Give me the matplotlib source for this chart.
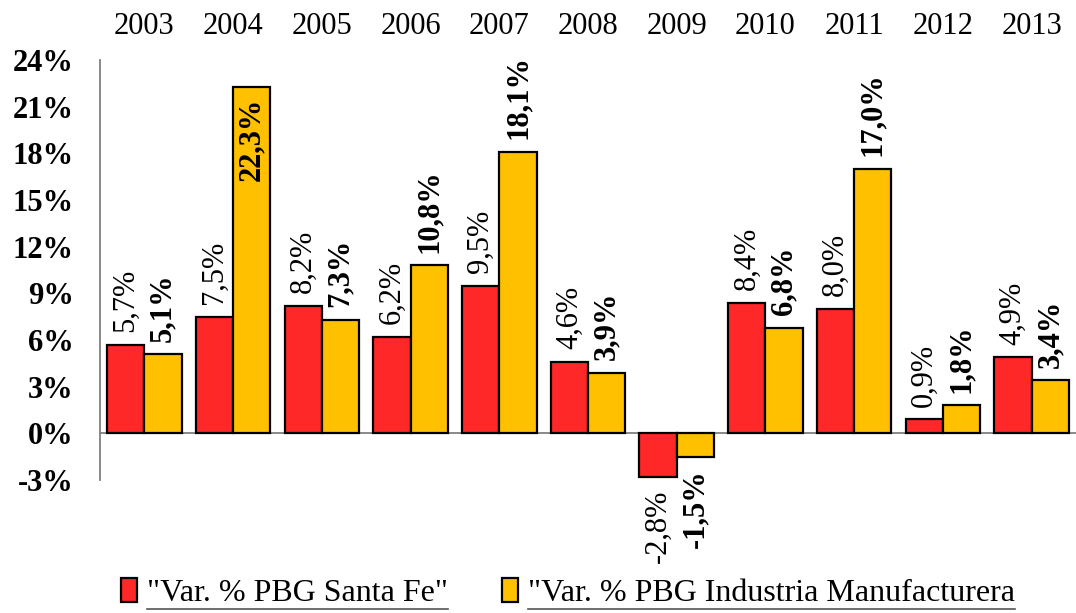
import numpy as np
import matplotlib.pyplot as plt
from matplotlib.lines import Line2D

years = ['2003', '2004', '2005', '2006', '2007', '2008', '2009', '2010', '2011', '2012', '2013']
santa_fe = [5.7, 7.5, 8.2, 6.2, 9.5, 4.6, -2.8, 8.4, 8.0, 0.9, 4.9]
industria = [5.1, 22.3, 7.3, 10.8, 18.1, 3.9, -1.5, 6.8, 17.0, 1.8, 3.4]
labels = ['"Var. % PBG Santa Fe"', '"Var. % PBG Industria Manufacturera']
yticks = [-3, 0, 3, 6, 9, 12, 15, 18, 21, 24]

RED = '#FF2828'
GOLD = '#FFC000'
FS = 22

plt.rcParams['font.family'] = ['Liberation Serif', 'DejaVu Serif']

fig = plt.figure(figsize=(10.76, 6.13), dpi=100)
ax = fig.add_axes([0.093, 0.217, 0.907, 0.685])

x = np.arange(len(years))
w = 0.42
b1 = ax.bar(x - w / 2, santa_fe, w, color=RED, edgecolor='black', linewidth=1.6, label=labels[0])
b2 = ax.bar(x + w / 2, industria, w, color=GOLD, edgecolor='black', linewidth=1.6, label=labels[1])


def fmt(v):
    return f'{v:.1f}%'.replace('.', ',')


def add_labels(xs, vals, weight):
    for xi, v in zip(xs, vals):
        if v > 20:
            ax.annotate(fmt(v), (xi, v), xytext=(0, -8), textcoords='offset points',
                        rotation=90, ha='center', va='top', fontsize=FS, fontweight=weight)
        elif v >= 0:
            ax.annotate(fmt(v), (xi, v), xytext=(0, 9), textcoords='offset points',
                        rotation=90, ha='center', va='bottom', fontsize=FS, fontweight=weight)
        else:
            ax.annotate(fmt(v), (xi, v), xytext=(0, -9), textcoords='offset points',
                        rotation=90, ha='center', va='top', fontsize=FS, fontweight=weight)


add_labels(x - w / 2, santa_fe, 'normal')
add_labels(x + w / 2, industria, 'bold')

ax.set_xlim(-0.5, len(years) - 0.5)
ax.set_ylim(-3, 24)
ax.set_yticks(yticks)
ax.set_yticklabels([f'{t}%' for t in yticks], fontsize=FS, fontweight='bold')
ax.tick_params(axis='y', length=0, pad=19)

ax.xaxis.tick_top()
ax.set_xticks(x)
ax.set_xticklabels(years, fontsize=FS)
ax.tick_params(axis='x', length=0, pad=14)

for s in ['top', 'right', 'bottom']:
    ax.spines[s].set_visible(False)
ax.spines['left'].set_color('#808080')
ax.spines['left'].set_linewidth(1.3)
ax.axhline(0, color='#808080', linewidth=1.3, zorder=0.5)

leg = fig.legend(handles=[b1, b2], labels=labels, loc='center', bbox_to_anchor=(0.528, 0.033),
                 ncol=2, frameon=False, fontsize=23, handlelength=0.5, handleheight=0.8,
                 handletextpad=0.3, columnspacing=1.7)

# underline legend entries
fig.canvas.draw()
for t in leg.get_texts():
    bb = t.get_window_extent()
    yy = bb.y0 - 1
    fig.add_artist(Line2D([bb.x0 / fig.bbox.width, bb.x1 / fig.bbox.width],
                          [yy / fig.bbox.height, yy / fig.bbox.height],
                          transform=fig.transFigure, color='#555555', linewidth=1.2))

fig.savefig('out.png', dpi=100)
